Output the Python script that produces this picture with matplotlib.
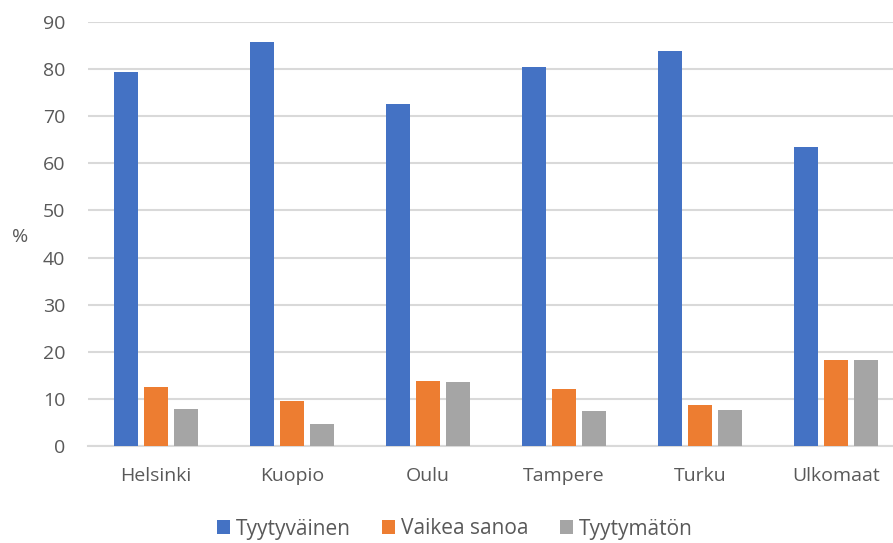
import numpy as np
import matplotlib
matplotlib.use("Agg")
import matplotlib.pyplot as plt

plt.rcParams['font.family'] = ['Open Sans', 'DejaVu Sans']

cities = ["Helsinki", "Kuopio", "Oulu", "Tampere", "Turku", "Ulkomaat"]
tyytyvainen = [79.4, 85.7, 72.7, 80.5, 83.8, 63.5]
vaikea_sanoa = [12.6, 9.6, 13.7, 12.2, 8.6, 18.2]
tyytymaton = [7.9, 4.7, 13.5, 7.4, 7.6, 18.2]

series = [("Tyytyväinen", tyytyvainen, "#4472C4"),
          ("Vaikea sanoa", vaikea_sanoa, "#ED7D31"),
          ("Tyytymätön", tyytymaton, "#A5A5A5")]

text_col = "#595959"
grid_col = "#D9D9D9"

fig = plt.figure(figsize=(8.93, 5.43), dpi=100)
# plot area: x 88..904 px, y 22..446 px (right side runs off the image, as in the reference)
ax = fig.add_axes([88/893, (543-446)/543, 816/893, (446-22)/543])

x = np.arange(len(cities))
w = 0.174
step = 0.22
for i, (name, vals, col) in enumerate(series):
    ax.bar(x + (i-1)*step, vals, width=w, color=col, label=name, zorder=3)

ax.set_xlim(-0.5, len(cities)-0.5)
ax.set_ylim(0, 90)
ax.set_yticks(range(0, 91, 10))
ax.set_xticks(x)
ax.set_xticklabels(cities)
ax.grid(axis='y', color=grid_col, linewidth=1.5, zorder=0)
for s in ['top', 'right', 'left']:
    ax.spines[s].set_visible(False)
ax.spines['bottom'].set_color(grid_col)
ax.spines['bottom'].set_linewidth(1.5)
ax.tick_params(axis='both', length=0, labelsize=14, colors=text_col)
ax.tick_params(axis='x', pad=15)
ax.tick_params(axis='y', pad=16.5)

fig.text(20/893, 1-237/543, "%", fontsize=14, color=text_col, ha='center', va='center')

handles, labels = ax.get_legend_handles_labels()
fig.legend(handles, labels, loc='center', bbox_to_anchor=(455/893, 1-529/543),
           ncol=3, frameon=False, fontsize=15, handlelength=0.63, handleheight=0.63,
           handletextpad=0.29, columnspacing=1.5, labelcolor=text_col)

fig.savefig("out.png", dpi=100)
